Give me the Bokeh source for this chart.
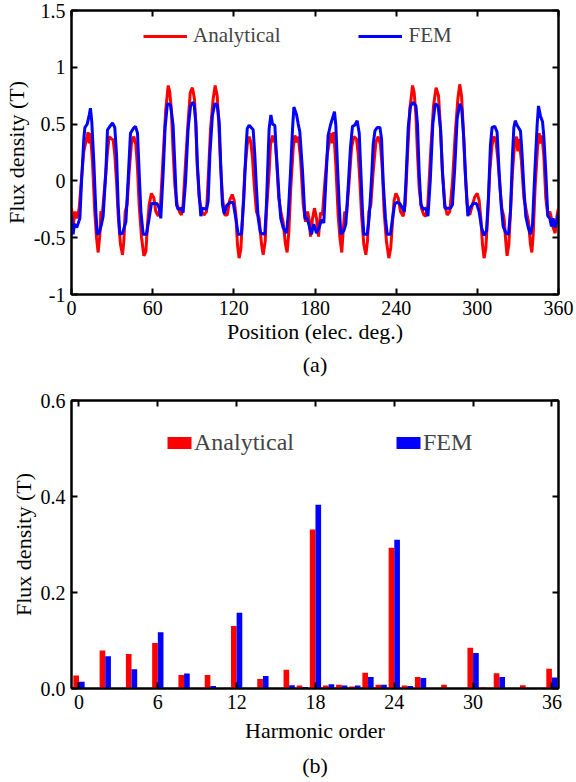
from bokeh.plotting import figure
from bokeh.models import (Legend, LegendItem, LinearAxis, FixedTicker, Range1d,
                          Title, ColumnDataSource)
from bokeh.layouts import column
from bokeh.transform import dodge
from bokeh.embed import file_html
from bokeh.resources import INLINE

FONT = "Liberation Serif, Times New Roman, DejaVu Serif, serif"

# ---------------- (a) air-gap flux density waveform ----------------
pos_analytical = [
    0, 1.2, 2.5, 4.2, 5.7, 7.4, 9.1, 11.1, 12.3, 13.1, 14.0, 15.5, 17.2, 18.5, 19.7, 21.0, 21.7, 22.9,
    24.6, 26.4, 27.8, 29.6, 30.8, 32.0, 33.3, 34.5, 36.2, 37.7, 38.7, 39.7, 41.1, 42.6, 44.3, 46.1,
    47.6, 48.8, 50.0, 51.8, 53.5, 55.0, 56.2, 57.4, 59.1, 60.9, 62.3, 64.1, 65.8, 67.8, 69.7, 71.5,
    72.7, 73.9, 75.1, 76.4, 78.1, 80.1, 81.3, 82.5, 84.5, 86.2, 87.8, 89.4, 90.9, 91.9, 92.9, 94.4,
    96.1, 97.9, 99.8, 101.3, 102.8, 104.7, 106.2, 107.7, 108.9, 110.2, 111.6, 113.3, 115.1, 117.0,
    118.8, 120.2, 121.5, 122.7, 123.9, 125.2, 126.4, 128.1, 129.9, 131.3, 132.6, 133.8, 135.1,
    136.7, 138.7, 140.5, 141.7, 143.2, 144.1, 146.1, 147.1, 148.6, 149.6, 150.3, 151.5, 153.2,
    154.7, 156.4, 158.2, 159.4, 160.7, 162.1, 163.9, 165.1, 166.4, 167.6, 169.3, 171.3, 173.0,
    174.5, 175.7, 176.7, 178.2, 179.6, 181.1, 182.6, 184.1, 185.5, 187.3, 189.0, 191.0, 192.2,
    192.9, 193.9, 195.4, 197.1, 198.4, 199.8, 200.8, 202.0, 203.3, 205.2, 207.0, 208.7, 210.7,
    211.9, 213.2, 214.4, 216.1, 217.6, 218.8, 219.8, 221.3, 223.0, 225.0, 226.7, 228.4, 229.9,
    231.1, 232.8, 234.6, 236.0, 237.3, 238.5, 239.8, 241.5, 243.2, 245.2, 246.7, 248.4, 250.1,
    252.1, 253.3, 254.6, 255.8, 257.0, 258.7, 260.5, 262.0, 263.4, 265.4, 267.6, 269.5, 271.3,
    272.8, 274.2, 276.0, 277.7, 279.6, 281.6, 283.6, 285.6, 287.0, 288.3, 289.5, 291.0, 292.5,
    294.4, 296.4, 298.1, 299.9, 301.3, 302.6, 303.8, 305.0, 306.3, 307.7, 309.2, 310.7, 312.2,
    313.7, 315.1, 316.6, 318.1, 319.8, 321.0, 322.0, 323.3, 324.5, 326.0, 327.5, 329.0, 329.9,
    330.9, 332.6, 334.4, 336.3, 337.8, 339.3, 340.3, 341.3, 342.7, 344.5, 345.7, 346.7, 347.7,
    349.1, 350.6, 352.1, 353.6, 354.8, 356.0, 357.5, 359.0, 360.0]
flux_analytical = [
    -0.24, -0.41, -0.27, -0.33, -0.24, 0.02, 0.26, 0.37, 0.43, 0.33, 0.42, 0.17, -0.27, -0.50, -0.63,
    -0.47, -0.27, -0.28, -0.04, 0.23, 0.39, 0.37, 0.36, 0.23, -0.01, -0.30, -0.56, -0.65, -0.53,
    -0.27, -0.21, 0.08, 0.33, 0.39, 0.32, 0.11, -0.21, -0.50, -0.66, -0.62, -0.38, -0.21, -0.11,
    -0.15, -0.27, -0.31, -0.21, 0.23, 0.63, 0.84, 0.78, 0.60, 0.26, -0.04, -0.21, -0.28, -0.30,
    -0.21, 0.20, 0.52, 0.78, 0.82, 0.72, 0.49, 0.14, -0.15, -0.27, -0.30, -0.27, 0.08, 0.46, 0.72,
    0.84, 0.75, 0.49, 0.14, -0.15, -0.30, -0.30, -0.17, -0.12, -0.17, -0.30, -0.56, -0.68, -0.60,
    -0.33, 0.08, 0.32, 0.39, 0.34, 0.20, -0.04, -0.27, -0.33, -0.56, -0.65, -0.53, -0.27, 0.08,
    0.32, 0.40, 0.34, 0.39, 0.20, -0.15, -0.27, -0.36, -0.56, -0.63, -0.44, -0.06, 0.29, 0.40,
    0.34, 0.39, 0.20, -0.21, -0.36, -0.27, -0.34, -0.49, -0.33, -0.24, -0.33, -0.49, -0.28, -0.30,
    -0.01, 0.23, 0.37, 0.42, 0.33, 0.43, 0.14, -0.30, -0.50, -0.63, -0.44, -0.27, -0.30, -0.01,
    0.29, 0.39, 0.37, 0.24, -0.01, -0.30, -0.56, -0.65, -0.53, -0.27, -0.21, 0.08, 0.34, 0.39,
    0.32, 0.08, -0.27, -0.53, -0.68, -0.59, -0.36, -0.17, -0.11, -0.15, -0.27, -0.31, -0.21, 0.23,
    0.63, 0.84, 0.78, 0.58, 0.23, -0.06, -0.24, -0.30, -0.31, -0.21, 0.23, 0.66, 0.82, 0.75, 0.46,
    0.08, -0.21, -0.30, -0.27, -0.01, 0.40, 0.72, 0.85, 0.75, 0.49, 0.08, -0.21, -0.30, -0.21,
    -0.14, -0.11, -0.17, -0.33, -0.56, -0.68, -0.59, -0.30, 0.08, 0.30, 0.39, 0.36, 0.20, -0.04,
    -0.24, -0.33, -0.53, -0.66, -0.56, -0.27, 0.08, 0.32, 0.39, 0.26, 0.37, 0.17, -0.15, -0.27,
    -0.36, -0.56, -0.63, -0.47, -0.06, 0.29, 0.42, 0.33, 0.40, 0.23, -0.15, -0.30, -0.27, -0.33,
    -0.41, -0.46, -0.30, -0.24]

pos_fem = [
    0, 1.2, 2.2, 3.9, 6.2, 7.4, 9.1, 9.9, 11.6, 13.1, 14.0, 15.0, 16.5, 18.0, 19.0, 20.4, 22.2, 23.4,
    25.4, 26.6, 27.8, 30.3, 32.0, 33.3, 34.5, 35.7, 37.7, 40.2, 41.9, 43.6, 45.6, 47.3, 48.8, 50.0,
    51.3, 53.0, 55.4, 57.4, 59.1, 60.9, 63.3, 64.8, 66.0, 67.8, 69.2, 70.9, 73.2, 75.1, 76.4, 77.6,
    78.8, 81.3, 82.5, 84.3, 86.2, 88.0, 89.5, 90.6, 91.9, 93.1, 94.4, 95.6, 96.8, 99.8, 101.0,
    102.3, 104.2, 106.0, 107.7, 109.2, 110.4, 111.6, 112.9, 114.6, 117.0, 119.5, 121.5, 123.2,
    125.6, 127.4, 128.9, 129.9, 131.3, 134.3, 135.5, 136.7, 138.0, 139.7, 142.9, 144.1, 145.4,
    146.1, 147.4, 148.6, 150.3, 151.5, 153.5, 154.7, 156.4, 158.9, 160.2, 161.9, 163.4, 164.4,
    166.4, 167.6, 168.8, 170.8, 172.6, 174.3, 176.0, 177.4, 179.1, 181.1, 183.1, 184.8, 186.5,
    188.0, 189.7, 191.4, 192.9, 194.4, 195.4, 196.6, 197.9, 199.1, 201.3, 202.8, 204.5, 206.2,
    207.7, 209.4, 211.2, 212.7, 213.9, 215.1, 216.1, 218.6, 220.0, 221.8, 223.0, 224.3, 226.0,
    228.0, 229.2, 230.4, 232.1, 233.4, 235.8, 237.3, 239.0, 240.8, 242.7, 244.7, 246.0, 247.2,
    248.9, 250.6, 252.6, 254.6, 255.8, 257.0, 258.3, 260.0, 262.0, 263.5, 265.2, 267.1, 268.9,
    271.0, 272.8, 274.2, 276.0, 277.7, 280.1, 281.6, 283.3, 285.1, 287.0, 288.5, 290.0, 291.5,
    293.0, 294.4, 296.9, 299.4, 301.3, 303.1, 304.8, 306.8, 308.2, 309.7, 310.9, 312.9, 314.6,
    316.1, 317.6, 319.1, 321.1, 323.0, 324.5, 326.0, 327.0, 328.0, 329.4, 331.9, 333.1, 334.4,
    335.8, 337.6, 339.3, 340.8, 342.5, 344.2, 345.2, 346.7, 348.2, 349.1, 350.6, 352.1, 353.6,
    354.8, 356.0, 357.3, 359.0, 360.0]
flux_fem = [
    -0.30, -0.47, -0.38, -0.41, -0.33, -0.01, 0.37, 0.47, 0.50, 0.58, 0.64, 0.52, 0.17, -0.27, -0.47,
    -0.46, -0.38, -0.31, 0.08, 0.45, 0.47, 0.51, 0.47, 0.23, -0.21, -0.47, -0.46, -0.36, 0.02, 0.42,
    0.46, 0.48, 0.42, 0.08, -0.27, -0.47, -0.47, -0.33, -0.20, -0.20, -0.20, -0.24, -0.33, 0.08,
    0.47, 0.68, 0.67, 0.49, 0.14, -0.21, -0.25, -0.24, -0.28, -0.01, 0.46, 0.66, 0.69, 0.68, 0.52,
    0.14, -0.12, -0.31, -0.24, -0.25, -0.18, 0.23, 0.58, 0.68, 0.67, 0.52, 0.11, -0.21, -0.29,
    -0.22, -0.19, -0.19, -0.33, -0.47, -0.47, -0.15, 0.26, 0.46, 0.49, 0.45, 0.23, -0.06, -0.33,
    -0.46, -0.47, -0.21, 0.23, 0.46, 0.58, 0.50, 0.49, 0.23, -0.15, -0.33, -0.41, -0.46, -0.30,
    0.08, 0.46, 0.65, 0.58, 0.50, 0.43, 0.08, -0.33, -0.33, -0.41, -0.47, -0.38, -0.46, -0.41,
    -0.34, -0.37, -0.01, 0.40, 0.49, 0.55, 0.61, 0.49, 0.14, -0.21, -0.47, -0.44, -0.38, -0.06,
    0.29, 0.48, 0.49, 0.53, 0.42, 0.08, -0.27, -0.47, -0.47, -0.33, 0.02, 0.32, 0.44, 0.47, 0.47,
    0.37, -0.01, -0.33, -0.47, -0.47, -0.33, -0.20, -0.19, -0.20, -0.24, -0.27, -0.01, 0.47, 0.66,
    0.69, 0.66, 0.49, 0.08, -0.21, -0.25, -0.24, -0.31, 0.00, 0.50, 0.68, 0.66, 0.46, 0.08, -0.24,
    -0.24, -0.24, -0.21, 0.11, 0.55, 0.68, 0.63, 0.37, -0.01, -0.31, -0.24, -0.20, -0.20, -0.27,
    -0.41, -0.48, -0.44, -0.15, 0.32, 0.47, 0.48, 0.43, 0.08, -0.21, -0.40, -0.46, -0.47, -0.27,
    0.23, 0.47, 0.53, 0.49, 0.44, 0.23, -0.06, -0.31, -0.41, -0.47, -0.38, 0.08, 0.49, 0.66, 0.57,
    0.52, 0.40, 0.08, -0.31, -0.33, -0.40, -0.33, -0.41, -0.34, -0.28]

pos_ticks = [0, 60, 120, 180, 240, 300, 360]
pos_tick_labels = ["0", "60", "120", "180", "240", "300", "360"]
flux_ticks_a = [-1, -0.5, 0, 0.5, 1, 1.5]
flux_tick_labels_a = ["-1", "-0.5", "0", "0.5", "1", "1.5"]

# ---------------- (b) harmonic spectrum ----------------
harmonic_order = list(range(37))
harm_analytical = [0.027, 0, 0.079, 0, 0.072, 0, 0.095, 0, 0.028, 0, 0.028, 0, 0.130, 0, 0.020, 0,
                   0.039, 0.006, 0.331, 0.006, 0.008, 0.004, 0.033, 0.008, 0.293, 0.006, 0.024, 0,
                   0.008, 0, 0.085, 0.002, 0.032, 0, 0.007, 0, 0.041]
harm_fem = [0.014, 0, 0.067, 0, 0.040, 0, 0.117, 0, 0.031, 0, 0.005, 0, 0.158, 0, 0.026, 0,
            0.007, 0.003, 0.383, 0.009, 0.006, 0.006, 0.024, 0.008, 0.310, 0.005, 0.022, 0,
            0, 0, 0.074, 0, 0.024, 0, 0, 0, 0.023]

order_ticks = [0, 6, 12, 18, 24, 30, 36]
order_tick_labels = ["0", "6", "12", "18", "24", "30", "36"]
flux_ticks_b = [0, 0.2, 0.4, 0.6]
flux_tick_labels_b = ["0.0", "0.2", "0.4", "0.6"]


def style_box(p, xticks, xlabels, yticks, ylabels, label_gap):
    p.grid.visible = False
    p.outline_line_color = "black"
    p.outline_line_width = 2
    p.outline_line_alpha = 1
    p.background_fill_color = "white"
    p.border_fill_color = "white"
    p.xaxis.ticker = FixedTicker(ticks=xticks)
    p.yaxis.ticker = FixedTicker(ticks=yticks)
    p.xaxis.major_label_overrides = dict(zip(xticks, xlabels))
    p.yaxis.major_label_overrides = dict(zip(yticks, ylabels))
    for ax in (p.xaxis[0], p.yaxis[0]):
        ax.axis_line_width = 2
        ax.major_tick_in = 6
        ax.major_tick_out = 0
        ax.major_tick_line_width = 2
        ax.minor_tick_line_color = None
        ax.major_label_text_font = FONT
        ax.major_label_text_font_size = "20px"
        ax.major_label_text_color = "black"
        ax.axis_label_text_font = FONT
        ax.axis_label_text_font_size = "22px"
        ax.axis_label_text_font_style = "normal"
        ax.axis_label_text_color = "black"
    p.xaxis[0].major_label_standoff = 6
    p.xaxis[0].axis_label_standoff = label_gap
    p.yaxis[0].major_label_standoff = 6
    p.yaxis[0].axis_label_standoff = 2
    top = LinearAxis(ticker=FixedTicker(ticks=xticks),
                     major_label_overrides={t: "" for t in xticks})
    right = LinearAxis(ticker=FixedTicker(ticks=yticks),
                       major_label_overrides={t: "" for t in yticks})
    for ax in (top, right):
        ax.axis_line_width = 2
        ax.major_tick_in = 6
        ax.major_tick_out = 0
        ax.major_tick_line_width = 2
        ax.minor_tick_line_color = None
        ax.major_label_text_font_size = "1px"
        ax.major_label_standoff = 0
    p.add_layout(top, "above")
    p.add_layout(right, "right")


def caption(text, gap):
    return Title(text=text, align="center", text_font=FONT, text_font_size="22px",
                 text_font_style="normal", text_color="black", standoff=gap)


# ---- figure (a)
p1 = figure(width=576, height=380, x_range=Range1d(0, 360), y_range=Range1d(-1, 1.5),
            output_backend="svg", toolbar_location=None,
            min_border_left=71, min_border_right=18, min_border_top=10, min_border_bottom=84,
            x_axis_label="Position (elec. deg.)", y_axis_label="Flux density (T)")
style_box(p1, pos_ticks, pos_tick_labels, flux_ticks_a, flux_tick_labels_a, 1)
r_an = p1.line(pos_analytical, flux_analytical, line_color="#FF0000", line_width=3)
r_fe = p1.line(pos_fem, flux_fem, line_color="#0000FF", line_width=3)
leg1 = Legend(items=[LegendItem(label="Analytical", renderers=[r_an]),
                     LegendItem(label="FEM", renderers=[r_fe])],
              orientation="horizontal", location=(72, 246),
              glyph_width=44, glyph_height=22, label_height=22, label_standoff=6, spacing=78,
              padding=0, margin=0, border_line_color=None, background_fill_alpha=0,
              label_text_font=FONT, label_text_font_size="21px")
p1.add_layout(leg1)
p1.add_layout(caption("(a)", 7), "below")

# ---- figure (b)
p2 = figure(width=576, height=402, x_range=Range1d(-0.57, 36.5), y_range=Range1d(0, 0.6),
            output_backend="svg", toolbar_location=None,
            min_border_left=71, min_border_right=10, min_border_top=20, min_border_bottom=90,
            x_axis_label="Harmonic order", y_axis_label="Flux density (T)")
style_box(p2, order_ticks, order_tick_labels, flux_ticks_b, flux_tick_labels_b, 6)
src = ColumnDataSource(dict(order=harmonic_order, analytical=harm_analytical, fem=harm_fem))
r_ba = p2.vbar(x=dodge("order", -0.215, range=p2.x_range), top="analytical", width=0.43,
               source=src, fill_color="#FF0000", line_color=None)
r_bf = p2.vbar(x=dodge("order", 0.215, range=p2.x_range), top="fem", width=0.43,
               source=src, fill_color="#0000FF", line_color=None)
leg2 = Legend(items=[LegendItem(label="Analytical", renderers=[r_ba]),
                     LegendItem(label="FEM", renderers=[r_bf])],
              orientation="horizontal", location=(93, 232),
              glyph_width=30, glyph_height=15, label_height=24, label_standoff=0, spacing=99,
              padding=0, margin=0, border_line_color=None, background_fill_alpha=0,
              label_text_font=FONT, label_text_font_size="24px")
p2.add_layout(leg2)
p2.add_layout(caption("(b)", 10), "below")

layout = column(p1, p2, spacing=0)
open("out.html", "w").write(file_html(layout, INLINE))
